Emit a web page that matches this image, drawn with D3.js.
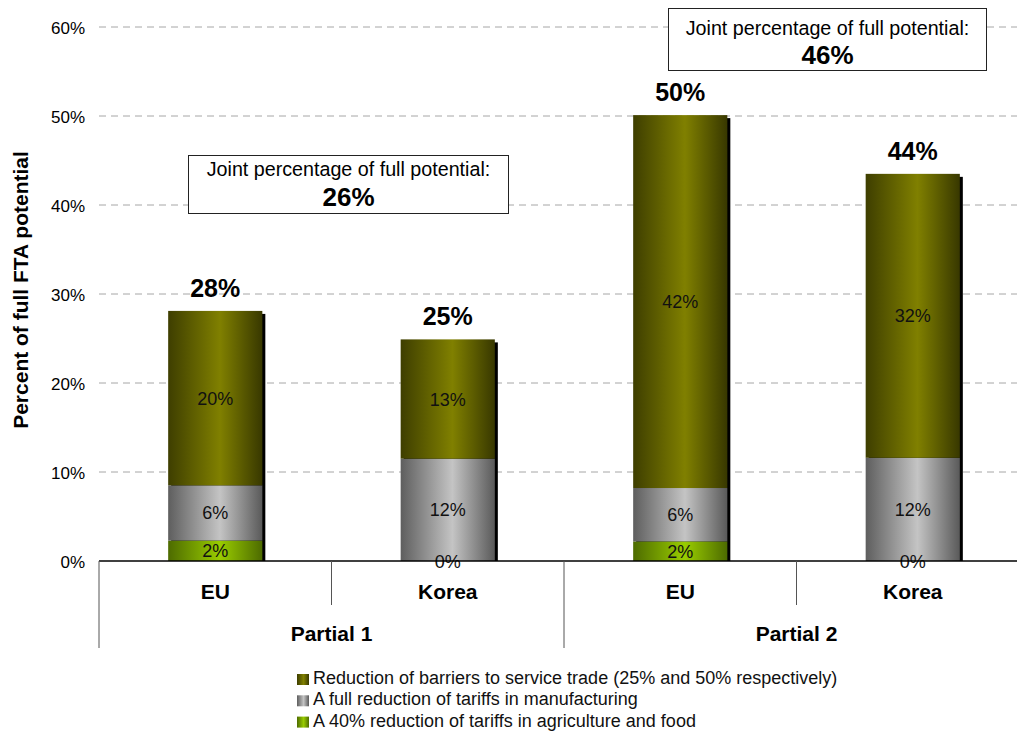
<!DOCTYPE html>
<html><head><meta charset="utf-8">
<script src="https://cdn.jsdelivr.net/npm/d3@7/dist/d3.min.js"></script>
<style>body{margin:0;background:#fff;}svg{font-family:"Liberation Sans",Arial,sans-serif;}</style>
</head><body><svg id="c" width="1017" height="731"></svg>
<script>
const categories = ["EU", "Korea", "EU", "Korea"];
const groups = ["Partial 1", "Partial 2"];
const agriculture = [2.3, 0, 2.2, 0];
const manufacturing = [6.2, 11.5, 6.0, 11.6];
const services = [19.6, 13.4, 41.9, 31.9];
const agriLabels = ["2%", "0%", "2%", "0%"];
const manufLabels = ["6%", "12%", "6%", "12%"];
const servLabels = ["20%", "13%", "42%", "32%"];
const totalLabels = ["28%", "25%", "50%", "44%"];
const jointLabels = ["26%", "46%"];
const yTicks = [0, 10, 20, 30, 40, 50, 60];
const legendLabels = ["Reduction of barriers to service trade (25% and 50% respectively)",
  "A full reduction of tariffs in manufacturing",
  "A 40% reduction of tariffs in agriculture and food"];

const FONT = "Liberation Sans, Arial, sans-serif";
const svg = d3.select("#c");
const x0 = 99, x1 = 1029, yTop = 27, yBot = 561;
const y = d3.scaleLinear().domain([0, 60]).range([yBot, yTop]);
const x = d3.scaleBand().domain(d3.range(categories.length)).range([x0, x1]);
const gx = d3.scaleBand().domain(d3.range(groups.length)).range([x0, x1]);

const defs = svg.append("defs");
function grad(id, edgeL, mid, edgeR) {
  const g = defs.append("linearGradient").attr("id", id).attr("x1", "0%").attr("x2", "100%");
  g.append("stop").attr("offset", "0%").attr("stop-color", edgeL);
  g.append("stop").attr("offset", "55%").attr("stop-color", mid);
  g.append("stop").attr("offset", "100%").attr("stop-color", edgeR);
}
grad("gServ", "#3e3e00", "#808000", "#383800");
grad("gMan", "#5e5e5e", "#c4c4c4", "#5a5a5a");
grad("gAgr", "#4d6b00", "#99cc00", "#4d6b00");

// gridlines
svg.append("g").selectAll("line").data(yTicks.filter(d => d > 0)).join("line")
  .attr("x1", x0).attr("x2", 1017).attr("y1", d => y(d)).attr("y2", d => y(d))
  .attr("stroke", "#a6a6a6").attr("stroke-dasharray", "7,5");

// y axis labels
const yAxis = d3.axisLeft(y).tickValues(yTicks).tickFormat(d => d + "%").tickSize(0).tickPadding(14);
const ya = svg.append("g").attr("transform", `translate(${x0},0)`).call(yAxis);
ya.attr("font-family", FONT).attr("font-size", 17);
ya.select(".domain").remove();
ya.selectAll("text").attr("fill", "#000").attr("dy", "0.36em");

svg.append("text").attr("transform", `translate(28,290) rotate(-90)`)
  .attr("text-anchor", "middle").attr("font-size", 21).attr("font-weight", "bold").text("Percent of full FTA potential");

// bars
const bw = x.bandwidth() * 0.405;
categories.forEach((c, i) => {
  const cx = x(i) + x.bandwidth() / 2, bx = cx - bw / 2;
  const tot = agriculture[i] + manufacturing[i] + services[i];
  svg.append("rect").attr("x", bx + 3).attr("y", y(tot) + 3).attr("width", bw).attr("height", yBot - y(tot) - 3).attr("fill", "#000");
  const segs = [[0, agriculture[i], "gAgr", agriLabels[i]],
    [agriculture[i], agriculture[i] + manufacturing[i], "gMan", manufLabels[i]],
    [agriculture[i] + manufacturing[i], tot, "gServ", servLabels[i]]];
  segs.forEach(s => {
    if (s[1] > s[0]) svg.append("rect").attr("x", bx).attr("y", y(s[1])).attr("width", bw).attr("height", y(s[0]) - y(s[1])).attr("fill", `url(#${s[2]})`);
  });
  segs.forEach(s => {
    svg.append("text").attr("x", cx).attr("y", (y(s[0]) + y(s[1])) / 2 + 6.5).attr("text-anchor", "middle")
      .attr("font-size", 18).attr("fill", "#111").text(s[3]);
  });
  svg.append("text").attr("x", cx).attr("y", y(tot) - 14).attr("text-anchor", "middle")
    .attr("font-size", 25).attr("font-weight", "bold").text(totalLabels[i]);
});

// category axis
svg.append("line").attr("x1", x0).attr("x2", 1017).attr("y1", yBot).attr("y2", yBot).attr("stroke", "#000").attr("stroke-width", 1.5);
categories.forEach((c, i) => {
  const isGroupEdge = i % 2 === 0;
  svg.append("line").attr("x1", x(i)).attr("x2", x(i)).attr("y1", yBot).attr("y2", isGroupEdge ? 648 : 605).attr("stroke", "#555");
  svg.append("text").attr("x", x(i) + x.bandwidth() / 2).attr("y", 599).attr("text-anchor", "middle")
    .attr("font-size", 21).attr("font-weight", "bold").text(c);
});
groups.forEach((g, i) => {
  svg.append("text").attr("x", gx(i) + gx.bandwidth() / 2).attr("y", 641).attr("text-anchor", "middle")
    .attr("font-size", 21).attr("font-weight", "bold").text(g);
});

// annotation boxes
const boxes = [{x: 188.5, y: 155.5, w: 320, h: 58, t1: 20.5, t2: 50.5}, {x: 668.5, y: 8.5, w: 318, h: 62, t1: 26, t2: 55}];
boxes.forEach((b, i) => {
  svg.append("rect").attr("x", b.x).attr("y", b.y).attr("width", b.w).attr("height", b.h).attr("fill", "#fff").attr("stroke", "#222");
  svg.append("text").attr("x", b.x + b.w / 2).attr("y", b.y + b.t1).attr("text-anchor", "middle").attr("font-size", 19.7).text("Joint percentage of full potential:");
  svg.append("text").attr("x", b.x + b.w / 2).attr("y", b.y + b.t2).attr("text-anchor", "middle").attr("font-size", 26).attr("font-weight", "bold").text(jointLabels[i]);
});

// legend
const lg = ["gServ", "gMan", "gAgr"];
legendLabels.forEach((t, i) => {
  const base = 684 + i * 21.3;
  svg.append("rect").attr("x", 297).attr("y", base - 10).attr("width", 12).attr("height", 11).attr("fill", `url(#${lg[i]})`);
  svg.append("text").attr("x", 313).attr("y", base).attr("font-size", 18).attr("fill", "#111").text(t);
});
</script></body></html>
